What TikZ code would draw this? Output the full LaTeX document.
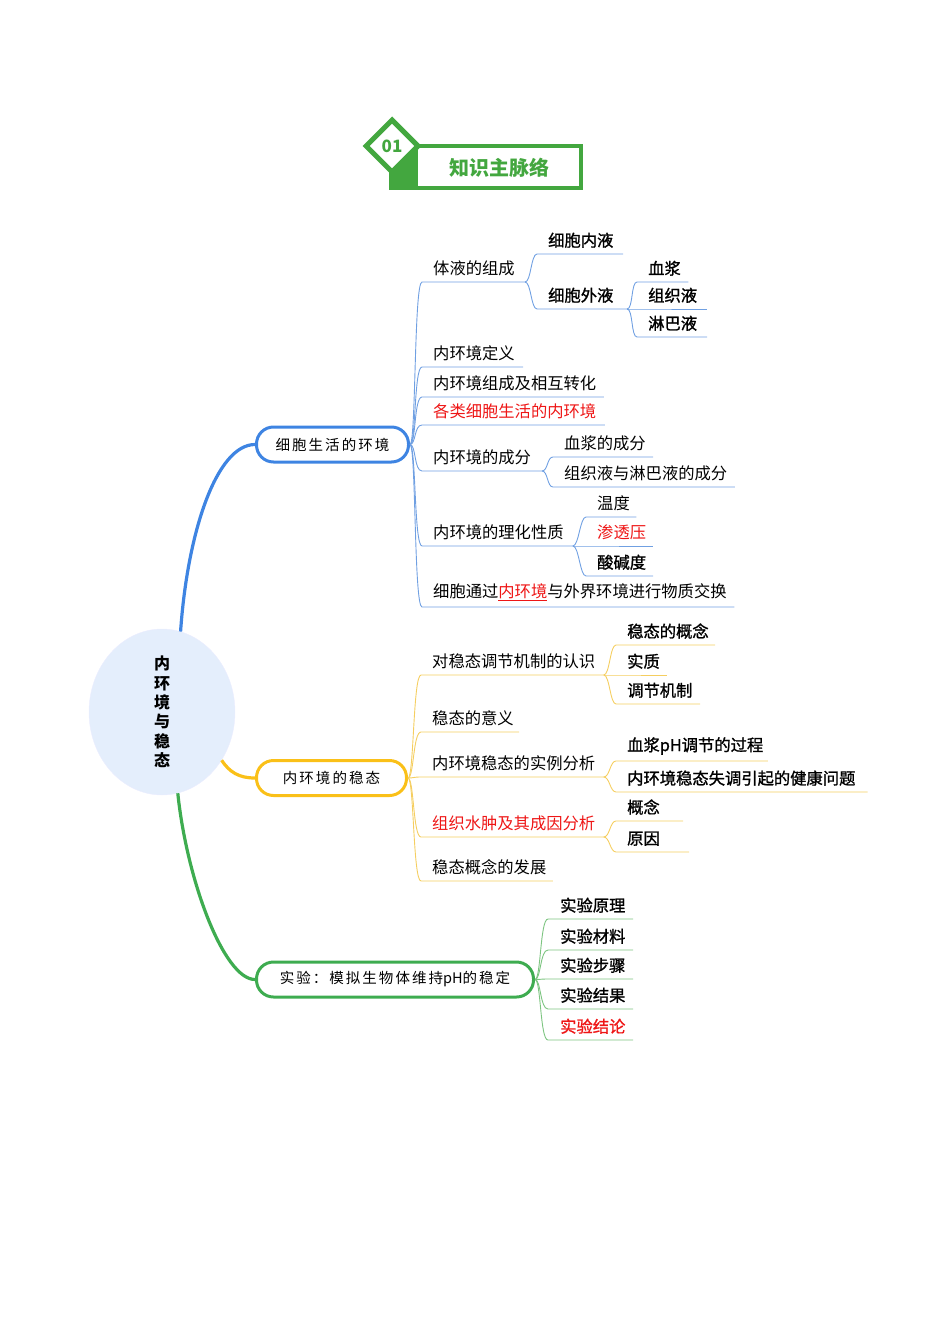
\documentclass[tikz,border=0pt]{standalone}
\usepackage{fontspec}
\newfontfamily\cjk{Noto Sans CJK SC}
\newfontfamily\cjkbold[FakeBold=1.2]{Noto Sans CJK SC}
\newfontfamily\cjkbox[LetterSpace=14]{Noto Sans CJK SC}
\usetikzlibrary{shapes.geometric}
\definecolor{hdrgreen}{RGB}{67,167,63}
\definecolor{bluemain}{RGB}{62,132,226}
\definecolor{bluethin}{RGB}{112,160,226}
\definecolor{yellowmain}{RGB}{250,192,24}
\definecolor{yellowthin}{RGB}{245,206,96}
\definecolor{greenmain}{RGB}{62,172,80}
\definecolor{greenthin}{RGB}{124,196,128}
\definecolor{rootfill}{RGB}{228,238,252}
\definecolor{redtext}{RGB}{238,22,22}

\begin{document}
\begin{tikzpicture}[x=1bp, y=-1bp,
  leaf/.style={anchor=south west, inner xsep=0pt, inner ysep=6bp, text width=#1, align=left,
    font={\cjk\fontsize{16.3bp}{19bp}\selectfont}},
  bleaf/.style={leaf=#1, font={\cjkbold\fontsize{16.3bp}{19bp}\selectfont}},
  topic/.style={draw=#1, line width=3bp, rounded corners=17bp, minimum height=35bp, inner xsep=0pt,
    font={\cjkbox\fontsize{14.5bp}{17bp}\selectfont}},
  mainline/.style={draw=#1, line width=3.2bp},
  thin/.style={draw=#1, line width=.9bp}
]
\useasboundingbox (0,0) rectangle (950,1344);

% header badge
\fill[hdrgreen] (389,146) rectangle (418,190);
\draw[hdrgreen, line width=4bp] (391,146) rectangle (581,188);
\node[diamond, draw=hdrgreen, line width=5bp, fill=white, minimum width=54bp, minimum height=54bp,
  inner sep=0pt, text=hdrgreen, font={\cjk\bfseries\fontsize{17bp}{20bp}\selectfont}] (badge) at (392,146) {01};
\node[text=hdrgreen, font={\cjk\bfseries\fontsize{20bp}{24bp}\selectfont}] (title) at (499,168) {知识主脉络};

% root and topics
\node[ellipse, fill=rootfill, draw=rootfill!70!blue!20, minimum width=146bp, minimum height=166bp, inner sep=0pt,
  align=center, font={\cjk\bfseries\fontsize{16bp}{19.3bp}\selectfont}] (root) at (162,712) {内\\环\\境\\与\\稳\\态};
\node[topic=bluemain, minimum width=152bp] (cell) at (332.5,444.5) {细胞生活的环境};
\node[topic=yellowmain, minimum width=150bp] (homeo) at (331.5,778) {内环境的稳态};
\node[topic=greenmain, minimum width=277bp] (exper) at (395,979.5) {实验：模拟生物体维持{\cjk pH}的稳定};

\draw[mainline=bluemain] (root.77) .. controls +(7,-101) and +(-38,0) .. (cell.west);
\draw[mainline=yellowmain] (root.-39) .. controls +(8,12) and +(-16,0) .. (homeo.west);
\draw[mainline=greenmain] (root.-79) .. controls +(9,87) and +(-31,0) .. (exper.west);

% cell environment
\node[leaf=92] (cell1) at (433,282) {体液的组成};
\node[leaf=90] (cell2) at (433,367) {内环境定义};
\node[leaf=171] (cell3) at (433,397) {内环境组成及相互转化};
\node[leaf=172, text=redtext] (cell4) at (433,425) {各类细胞生活的内环境};
\node[leaf=109] (cell5) at (433,471) {内环境的成分};
\node[leaf=140] (cell6) at (433,546) {内环境的理化性质};
\node[leaf=302] (cell7) at (433,607) {细胞通过{\color{redtext}\underline{内环境}}与外界环境进行物质交换};
\node[bleaf=75] (cell11) at (548,254) {细胞内液};
\node[bleaf=79] (cell12) at (548,309) {细胞外液};
\node[bleaf=40] (cell121) at (648,282) {血浆};
\node[bleaf=59] (cell122) at (648,309) {组织液};
\node[bleaf=59] (cell123) at (648,337) {淋巴液};
\node[leaf=89] (cell51) at (564,457) {血浆的成分};
\node[leaf=171] (cell52) at (564,487) {组织液与淋巴液的成分};
\node[leaf=39] (cell61) at (597,517) {温度};
\node[leaf=56, text=redtext] (cell62) at (597,546) {渗透压};
\node[bleaf=56] (cell63) at (597,576) {酸碱度};

\foreach \n in {cell1,cell2,cell3,cell4,cell5,cell6,cell7}
  \draw[thin=bluethin] (cell.east) .. controls +(6,0) and +(-8,0) .. ([xshift=-11bp]\n.south west) -- (\n.south east);
\foreach \p/\n in {cell1/cell11,cell1/cell12,cell12/cell121,cell12/cell122,cell12/cell123,
                   cell5/cell51,cell5/cell52,cell6/cell61,cell6/cell62,cell6/cell63}
  \draw[thin=bluethin] (\p.south east) .. controls +(6,0) and +(-6,0) .. ([xshift=-11bp]\n.south west) -- (\n.south east);

% homeostasis
\node[leaf=172] (homeo1) at (432,675) {对稳态调节机制的认识};
\node[leaf=87] (homeo2) at (432,732) {稳态的意义};
\node[leaf=172] (homeo3) at (432,777) {内环境稳态的实例分析};
\node[leaf=172, text=redtext] (homeo4) at (432,837) {组织水肿及其成因分析};
\node[leaf=121] (homeo5) at (432,881) {稳态概念的发展};
\node[bleaf=88] (homeo11) at (627,645) {稳态的概念};
\node[bleaf=40] (homeo12) at (627,675) {实质};
\node[bleaf=73] (homeo13) at (627,704) {调节机制};
\node[bleaf=141] (homeo31) at (627,761) {血浆pH调节的过程};
\node[bleaf=241] (homeo32) at (627,792) {内环境稳态失调引起的健康问题};
\node[bleaf=56] (homeo41) at (627,821) {概念};
\node[bleaf=62] (homeo42) at (627,852) {原因};

\foreach \n in {homeo1,homeo2,homeo3,homeo4,homeo5}
  \draw[thin=yellowthin] (homeo.east) .. controls +(6,0) and +(-8,0) .. ([xshift=-11bp]\n.south west) -- (\n.south east);
\foreach \p/\n in {homeo1/homeo11,homeo1/homeo12,homeo1/homeo13,homeo3/homeo31,homeo3/homeo32,
                   homeo4/homeo41,homeo4/homeo42}
  \draw[thin=yellowthin] (\p.south east) .. controls +(6,0) and +(-6,0) .. ([xshift=-11bp]\n.south west) -- (\n.south east);

% experiment
\node[bleaf=73] (exper1) at (560,919) {实验原理};
\node[bleaf=73] (exper2) at (560,950) {实验材料};
\node[bleaf=73] (exper3) at (560,979) {实验步骤};
\node[bleaf=73] (exper4) at (560,1009) {实验结果};
\node[bleaf=73, text=redtext] (exper5) at (560,1040) {实验结论};

\foreach \n in {exper1,exper2,exper3,exper4,exper5}
  \draw[thin=greenthin] (exper.east) .. controls +(6,0) and +(-8,0) .. ([xshift=-12bp]\n.south west) -- (\n.south east);
\end{tikzpicture}
\end{document}
